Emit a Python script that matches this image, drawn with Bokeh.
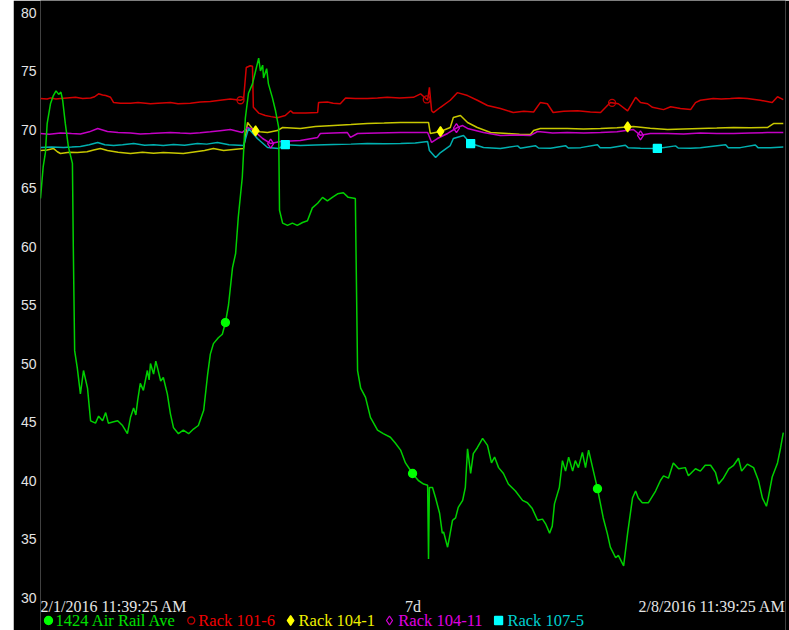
import numpy as np
from bokeh.plotting import figure
from bokeh.models import Range1d, FixedTicker, ColumnDataSource, Spacer
from bokeh.layouts import row
from bokeh.core.properties import value
from bokeh.embed import file_html
from bokeh.resources import INLINE

# ---------------- data (x = hours since 2/1/2016 11:39:25 AM) ----------------
air_rail = [(0, 64.1), (0.6, 66.8), (1.1, 68.0), (1.5, 70.5), (2.25, 72.2), (2.9, 72.9), (3.5, 73.3),
            (4.1, 73.0), (4.6, 73.2), (5.0, 72.5), (5.6, 70.5), (6.3, 68.5), (7.2, 67.1), (7.4, 59.9),
            (7.7, 51.1), (8.3, 49.6), (9.0, 47.4), (9.7, 49.4), (10.6, 47.9), (11.3, 45.1), (12.4, 44.9),
            (13.1, 45.5), (14.0, 45.1), (14.7, 45.8), (15.3, 44.9), (16.3, 45.0), (17.4, 45.1), (18.5, 44.7),
            (19.6, 44.0), (20.3, 45.4), (21.0, 46.2), (21.5, 45.6), (21.9, 46.8), (22.5, 48.3), (23.2, 47.7),
            (24.1, 49.4), (24.5, 48.6), (24.8, 50.0), (25.5, 49.1), (26.0, 50.2), (26.4, 49.6), (27.1, 48.5),
            (27.7, 48.8), (28.6, 47.4), (29.3, 45.7), (30.0, 44.5), (31.1, 44.0), (32.2, 44.3), (33.4, 44.0),
            (34.5, 44.4), (35.6, 44.7), (36.8, 46.0), (37.7, 49.1), (38.3, 50.8), (39.0, 51.7), (40.1, 52.2),
            (41.0, 52.5), (41.7, 53.5), (42.4, 55.0), (43.3, 58.2), (44.0, 59.4), (44.6, 62.5), (45.5, 65.9),
            (46.2, 71.0), (46.9, 73.1), (47.8, 73.9), (48.5, 75.0), (49.2, 76.1), (49.6, 75.0), (50.1, 75.5),
            (50.3, 74.4), (51.0, 75.2), (51.4, 73.9), (52.3, 72.7), (53.0, 71.6), (53.7, 70.2), (53.9, 63.1),
            (54.6, 62.0), (55.7, 61.8), (56.8, 62.0), (57.9, 61.8), (59.1, 62.05), (60.2, 62.2), (61.3, 63.3),
            (62.5, 63.7), (63.6, 64.2), (64.7, 63.9), (65.8, 64.2), (67.0, 64.5), (68.3, 64.6), (69.4, 64.2),
            (71.0, 64.1), (71.5, 49.4), (72.2, 47.9), (73.3, 47.1), (74.4, 45.4), (76.0, 44.3), (77.3, 44.0),
            (78.9, 43.7), (80.0, 43.2), (81.2, 42.6), (82.3, 41.5), (83.9, 40.6), (85.2, 40.0), (86.4, 39.7),
            (87.3, 39.6), (87.5, 33.3), (87.7, 39.4), (88.4, 39.4), (89.1, 38.5), (90.0, 37.2), (90.6, 35.5),
            (90.9, 35.6), (91.8, 34.3), (92.2, 35.1), (92.9, 36.6), (93.6, 36.8), (94.2, 37.7), (95.2, 38.3),
            (95.8, 39.4), (96.3, 42.7), (97.0, 40.6), (97.6, 42.3), (98.5, 42.8), (99.7, 43.6), (100.8, 43.0),
            (101.7, 41.5), (102.4, 42.0), (103.3, 41.1), (104.4, 40.6), (105.5, 39.7), (107.1, 39.1),
            (108.7, 38.3), (109.8, 38.1), (110.9, 37.6), (112.1, 36.6), (113.2, 36.7), (113.9, 36.3),
            (114.8, 35.5), (115.4, 36.1), (115.9, 38.0), (116.6, 38.9), (117.0, 39.4), (117.7, 41.7),
            (118.4, 40.8), (119.1, 42.0), (120.0, 40.8), (120.6, 41.7), (121.3, 41.1), (122.2, 42.4),
            (122.9, 41.1), (123.6, 42.6), (124.5, 41.1), (125.6, 39.3), (126.9, 36.8), (127.8, 35.5),
            (128.5, 34.3), (129.7, 33.4), (130.3, 33.6), (131.5, 32.7), (132.4, 35.5), (133.5, 38.5),
            (134.2, 39.1), (134.8, 38.5), (135.7, 38.1), (137.1, 38.1), (138.7, 39.1), (139.8, 40.0),
            (140.5, 40.4), (141.6, 40.2), (142.7, 41.5), (143.9, 41.0), (145.4, 41.1), (146.1, 40.4),
            (147.7, 41.0), (148.8, 40.8), (149.9, 41.3), (151.1, 41.3), (152.2, 40.7), (152.9, 39.7),
            (154.0, 40.2), (155.2, 41.0), (156.3, 41.3), (157.4, 41.9), (158.1, 40.8), (159.4, 41.4),
            (160.8, 41.1), (161.9, 40.0), (162.8, 38.5), (163.7, 37.8), (164.1, 38.5), (165.0, 40.3),
            (166.2, 41.5), (166.9, 42.8), (167.5, 44.1)]

rack_101_6 = [(0, 72.65), (1.5, 72.6), (2.3, 72.7), (3.5, 72.6), (4.5, 72.65), (6.0, 72.7), (7.9, 72.75),
              (9.5, 72.65), (11.3, 72.7), (12.2, 72.8), (13.1, 73.05), (14.0, 72.95), (14.7, 72.9),
              (15.8, 72.75), (16.5, 72.3), (18.0, 72.25), (20.3, 72.25), (22.0, 72.3), (24.8, 72.2),
              (26.5, 72.25), (29.3, 72.3), (31.0, 72.2), (33.8, 72.25), (36.0, 72.35), (38.3, 72.4),
              (40.5, 72.5), (42.8, 72.6), (45.1, 72.5), (45.8, 72.6), (46.4, 75.3), (47.3, 75.45),
              (47.8, 75.4), (48.0, 71.9), (49.2, 71.4), (50.7, 71.2), (52.0, 71.1), (53.4, 71.0),
              (55.2, 71.2), (56.4, 71.6), (57.0, 71.4), (59.8, 71.4), (62.5, 71.45), (62.7, 72.3),
              (64.7, 72.35), (66.0, 72.25), (67.6, 72.2), (68.8, 72.7), (71.0, 72.65), (73.7, 72.65),
              (76.0, 72.7), (78.2, 72.75), (81.0, 72.7), (84.1, 72.75), (85.7, 73.05), (87.3, 72.5),
              (87.7, 73.6), (88.2, 71.6), (88.6, 71.45), (90.2, 71.9), (92.4, 72.5), (94.0, 73.15),
              (96.3, 72.9), (98.5, 72.5), (100.8, 72.05), (103.7, 71.8), (106.6, 71.45), (109.0, 71.55),
              (111.2, 71.5), (112.7, 72.3), (114.3, 72.2), (115.6, 71.45), (118.0, 71.55), (121.1, 71.6),
              (124.0, 71.5), (126.3, 71.45), (128.5, 72.3), (130.3, 72.2), (132.4, 71.6), (134.2, 72.75),
              (135.3, 72.3), (136.9, 72.2), (138.0, 71.9), (140.5, 71.7), (142.1, 71.95), (144.3, 71.8),
              (146.6, 71.7), (147.7, 72.3), (148.8, 72.5), (151.7, 72.65), (153.5, 72.6), (155.6, 72.65),
              (157.5, 72.7), (159.4, 72.65), (162.3, 72.5), (165.0, 72.3), (166.2, 72.8), (167.5, 72.55)]

rack_104_1 = [(0, 68.2), (1.5, 68.25), (2.9, 68.38), (3.8, 68.1), (4.5, 67.95), (6.5, 68.05), (8.3, 68.03),
              (10.5, 68.1), (12.0, 68.25), (13.5, 68.38), (15.1, 68.2), (17.5, 68.05), (20.3, 67.95),
              (23.0, 68.05), (25.5, 67.98), (27.7, 68.03), (30.0, 68.0), (32.2, 67.95), (35.4, 68.12),
              (37.0, 68.2), (39.0, 68.38), (41.3, 68.2), (43.5, 68.3), (45.8, 68.38), (46.7, 70.6),
              (48.1, 69.91), (49.5, 69.8), (51.2, 69.74), (53.4, 69.91), (54.6, 70.17), (58.6, 70.09),
              (62.0, 70.25), (66.1, 70.34), (70.0, 70.42), (73.7, 70.51), (77.5, 70.55), (81.2, 70.6),
              (87.5, 70.6), (87.9, 69.66), (90.2, 69.83), (92.4, 70.17), (93.1, 71.03), (94.7, 71.2),
              (96.3, 70.6), (98.5, 70.17), (101.5, 69.74), (105.3, 69.66), (108.0, 69.6), (110.5, 69.57),
              (111.2, 69.91), (112.7, 70.09), (118.8, 70.09), (122.5, 70.05), (126.3, 70.09), (130.0, 70.15),
              (133.7, 70.26), (137.5, 70.1), (141.4, 70.0), (145.0, 70.05), (148.8, 70.09), (152.5, 70.12),
              (156.3, 70.17), (160.0, 70.15), (163.9, 70.17), (165.3, 70.51), (167.5, 70.51)]

rack_104_11 = [(0, 69.66), (2.0, 69.6), (4.5, 69.7), (7.0, 69.65), (9.0, 69.62), (11.0, 69.8), (12.9, 70.09),
               (15.1, 69.83), (17.5, 69.75), (20.3, 69.7), (22.5, 69.62), (24.8, 69.66), (27.0, 69.7),
               (29.3, 69.74), (31.5, 69.7), (33.8, 69.66), (36.0, 69.72), (38.3, 69.8), (40.5, 69.9),
               (42.8, 70.0), (45.5, 69.74), (46.7, 70.17), (47.8, 70.0), (50.1, 69.23), (51.9, 68.8),
               (54.1, 68.97), (58.6, 69.06), (62.5, 69.32), (63.1, 69.66), (66.0, 69.7), (69.2, 69.74),
               (69.9, 69.32), (71.5, 69.66), (76.0, 69.7), (81.2, 69.74), (87.3, 69.74), (88.2, 68.89),
               (89.5, 69.23), (91.8, 69.66), (94.0, 70.17), (95.2, 70.34), (96.3, 70.09), (99.9, 69.74),
               (103.7, 69.49), (107.0, 69.52), (110.5, 69.49), (112.1, 69.83), (115.5, 69.7), (118.8, 69.74),
               (122.5, 69.7), (126.3, 69.74), (130.0, 69.8), (133.7, 70.0), (135.3, 69.5), (137.5, 69.66),
               (141.4, 69.66), (145.0, 69.62), (148.8, 69.7), (152.5, 69.65), (156.3, 69.66), (160.0, 69.7),
               (163.9, 69.74), (167.5, 69.74)]

rack_107_5 = [(0, 68.46), (2.5, 68.5), (5.2, 68.46), (7.0, 68.5), (9.0, 68.55), (11.0, 68.7), (12.9, 68.89),
              (14.5, 68.7), (16.5, 68.63), (18.5, 68.7), (21.0, 68.8), (23.5, 68.65), (25.5, 68.7),
              (27.7, 68.63), (30.0, 68.72), (32.5, 68.66), (35.4, 68.8), (37.5, 68.75), (39.9, 68.89),
              (42.5, 68.7), (45.8, 68.63), (46.9, 70.09), (48.9, 69.23), (51.2, 68.46), (53.7, 68.38),
              (55.2, 68.7), (58.6, 68.63), (62.0, 68.68), (66.1, 68.72), (70.0, 68.75), (73.7, 68.8),
              (77.5, 68.78), (81.2, 68.8), (84.5, 68.85), (87.3, 68.97), (87.7, 68.2), (89.1, 67.6),
              (90.2, 68.03), (92.4, 68.63), (93.1, 69.23), (95.4, 69.49), (97.0, 68.8), (99.9, 68.46),
              (103.7, 68.38), (107.6, 68.6), (108.2, 68.4), (111.6, 68.62), (112.3, 68.42), (115.0, 68.4),
              (118.4, 68.62), (119.0, 68.42), (121.8, 68.45), (125.6, 68.7), (126.2, 68.45), (128.5, 68.45),
              (131.9, 68.65), (132.5, 68.45), (135.3, 68.4), (139.1, 68.38), (143.2, 68.6), (143.8, 68.42),
              (146.6, 68.4), (148.8, 68.45), (154.5, 68.7), (155.1, 68.45), (157.8, 68.45), (161.2, 68.68),
              (161.8, 68.45), (164.6, 68.45), (167.5, 68.5)]

# hours at which each series shows its point marker
air_rail_marks = [41.7, 83.9, 125.6]
rack_101_6_marks = [45.1, 87.1, 128.9]
rack_104_1_marks = [48.5, 90.2, 132.4]
rack_104_11_marks = [51.9, 93.8, 135.3]
rack_107_5_marks = [55.2, 97.0, 139.1]

series_names = ["1424 Air Rail Ave", "Rack 101-6", "Rack 104-1", "Rack 104-11", "Rack 107-5"]
y_ticks = [30, 35, 40, 45, 50, 55, 60, 65, 70, 75, 80]
x_tick_labels = ["2/1/2016 11:39:25 AM", "7d", "2/8/2016 11:39:25 AM"]
x_tick_hours = [0, 84, 168]

# ---------------- styles / layout ----------------
W, H = 776, 630
PPU = 11.7                      # pixels per degree
Y_HI = 80 + 12 / PPU
Y_LO = Y_HI - H / PPU
line_colors = ["#00d000", "#d20000", "#c8c800", "#c400c4", "#00b0b0"]
label_colors = ["#00e000", "#f00000", "#f0f000", "#e000e0", "#00d0d0"]
mark_colors = ["#00ff00", "#c00000", "#ffff00", "#d000d0", "#00ffff"]
mark_shapes = ["circle", "circle", "diamond", "diamond", "square"]
mark_sizes = [8, 7, 10, 9, 8]
mark_fill_alpha = [1, 0, 1, 0, 1]
legend_mark_x = [1.8, 34.0, 56.4, 78.7, 103.3]
legend_text_x = [3.4, 35.6, 58.2, 80.7, 105.3]

p = figure(width=W, height=H, output_backend="svg", toolbar_location=None,
           x_range=Range1d(0, 168), y_range=Range1d(Y_LO, Y_HI), x_axis_type=None,
           min_border_left=27, min_border_right=4, min_border_top=0, min_border_bottom=0,
           background_fill_color="black", border_fill_color="black", outline_line_color=None)
p.xgrid.visible = False
p.ygrid.visible = False
ax = p.yaxis[0]
ax.ticker = FixedTicker(ticks=y_ticks)
ax.axis_line_color = None
ax.major_tick_line_color = None
ax.minor_tick_line_color = None
ax.major_tick_out = 0
ax.major_label_standoff = 4
ax.major_label_text_font = "Liberation Sans"
ax.major_label_text_font_size = "14px"
ax.major_label_text_color = "#e4e4e4"

all_series = [air_rail, rack_101_6, rack_104_1, rack_104_11, rack_107_5]
all_marks = [air_rail_marks, rack_101_6_marks, rack_104_1_marks, rack_104_11_marks, rack_107_5_marks]
draw_order = [1, 2, 3, 4, 0]
for i in draw_order:
    hx, vy = zip(*all_series[i])
    p.line(list(hx), list(vy), line_color=line_colors[i], line_width=1.5)
for i in draw_order:
    hx, vy = zip(*all_series[i])
    mv = np.interp(all_marks[i], hx, vy)
    p.scatter(all_marks[i], list(mv), marker=mark_shapes[i], size=mark_sizes[i],
              fill_color=mark_colors[i], fill_alpha=mark_fill_alpha[i],
              line_color=mark_colors[i], line_width=1.3)

# x labels
xl_y = 30 - 9 / PPU
for txt, hx, al in zip(x_tick_labels, x_tick_hours, ["left", "center", "right"]):
    p.text([hx], [xl_y], text=[txt], text_align=al, text_baseline="middle",
           text_font=value("Liberation Serif"), text_font_size="16px", text_color="#e4e4e4")

# legend row
lg_y = 30 - 23 / PPU
src_m = ColumnDataSource(dict(x=legend_mark_x, y=[lg_y] * 5, m=mark_shapes, s=mark_sizes,
                              c=mark_colors, a=mark_fill_alpha))
p.scatter("x", "y", marker="m", size="s", fill_color="c", fill_alpha="a", line_color="c",
          line_width=1.3, source=src_m)
src_t = ColumnDataSource(dict(x=legend_text_x, y=[lg_y] * 5, t=series_names, c=label_colors))
p.text("x", "y", text="t", text_color="c", text_align="left", text_baseline="middle",
       text_font=value("Liberation Serif"), text_font_size="16.5px", source=src_t)

layout = row(Spacer(width=13, height=H), p)
open("out.html", "w").write(file_html(layout, INLINE))
